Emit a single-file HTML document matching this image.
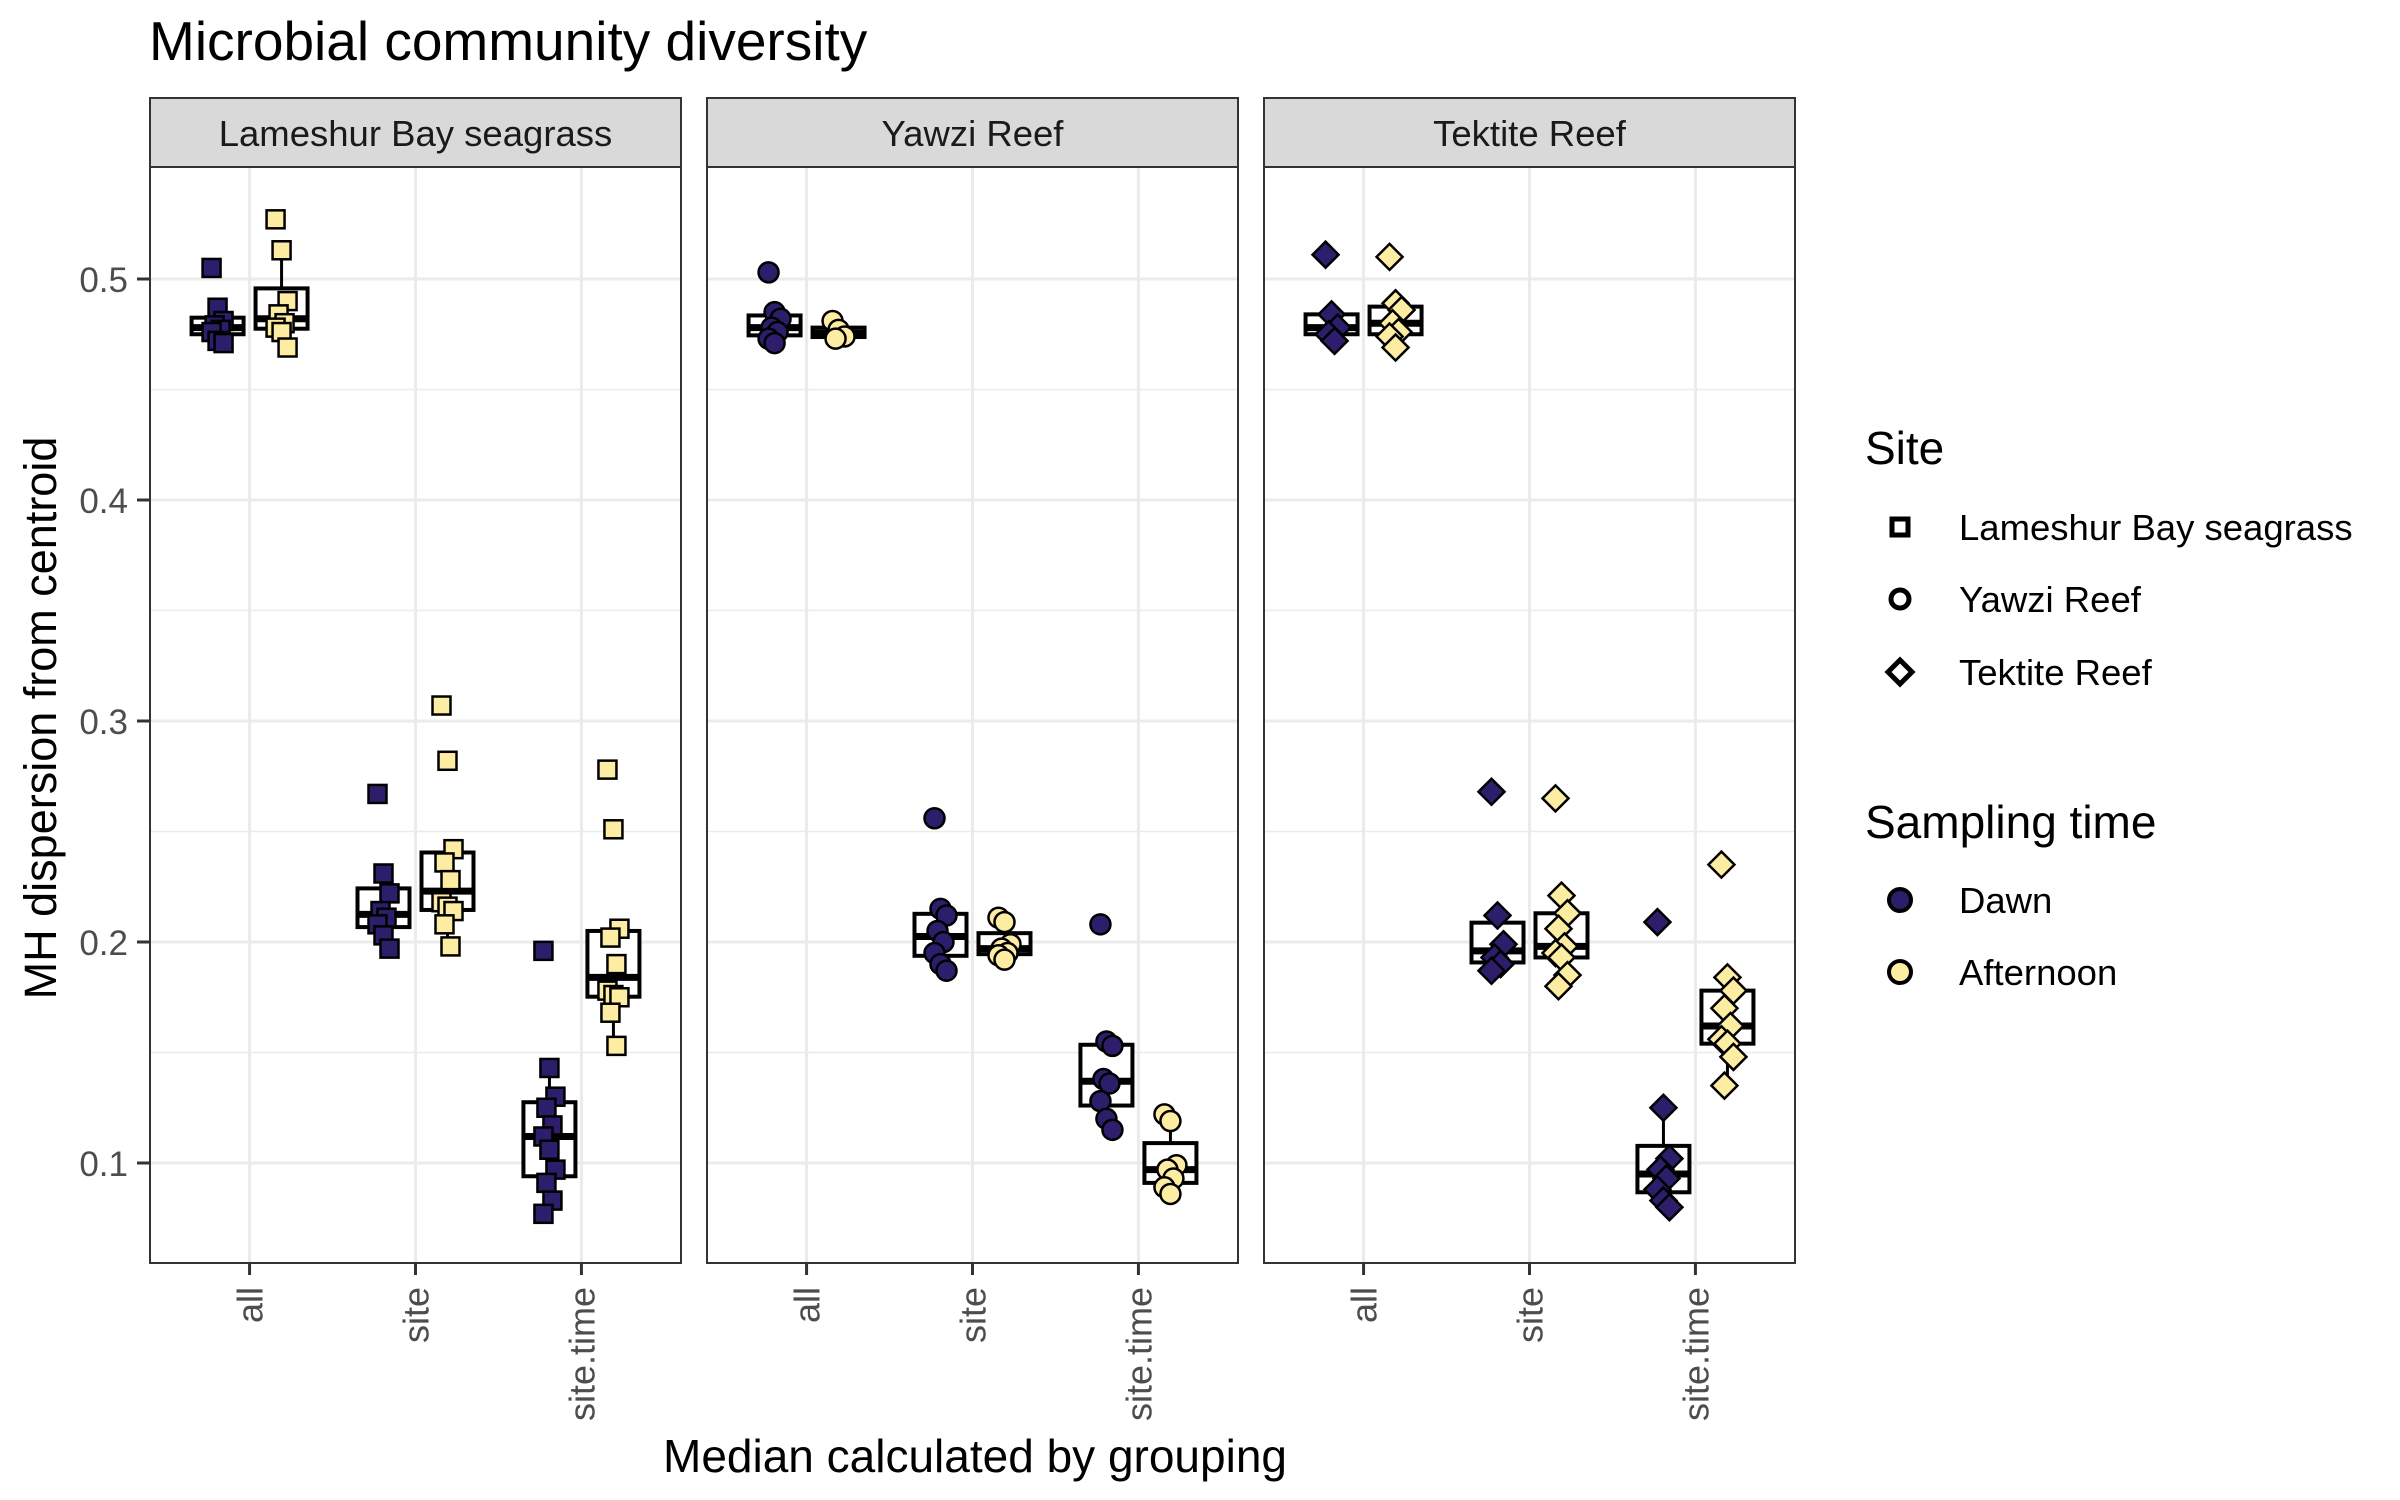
<!DOCTYPE html>
<html><head><meta charset="utf-8">
<style>
html,body{margin:0;padding:0;background:#fff;}
svg{display:block;font-family:"Liberation Sans",Arial,sans-serif;}
</style></head>
<body>
<svg id="chart" width="2400" height="1500" viewBox="0 0 2400 1500" xmlns="http://www.w3.org/2000/svg">
<rect width="2400" height="1500" fill="#fff"/>
<text x="149" y="60" font-size="55" fill="#000">Microbial community diversity</text>
<text transform="translate(56,718) rotate(-90)" text-anchor="middle" font-size="45" fill="#000">MH dispersion from centroid</text>
<text x="975" y="1472" text-anchor="middle" font-size="46" fill="#000">Median calculated by grouping</text>
<g id="panels"></g>
<g>
<text x="1865" y="464" font-size="46">Site</text>
<rect x="1892" y="519" width="16" height="16" fill="none" stroke="#000" stroke-width="5"/>
<text x="1959" y="540" font-size="36.5">Lameshur Bay seagrass</text>
<circle cx="1900" cy="599" r="9" fill="none" stroke="#000" stroke-width="5"/>
<text x="1959" y="612" font-size="36.5">Yawzi Reef</text>
<polygon points="1900,660 1912,672 1900,684 1888,672" fill="none" stroke="#000" stroke-width="5"/>
<text x="1959" y="685" font-size="36.5">Tektite Reef</text>
<text x="1865" y="838" font-size="46">Sampling time</text>
<circle cx="1900" cy="900" r="11" fill="#2D1E6B" stroke="#000" stroke-width="4"/>
<text x="1959" y="913" font-size="36.5">Dawn</text>
<circle cx="1900" cy="972" r="11" fill="#FDEDA2" stroke="#000" stroke-width="4"/>
<text x="1959" y="985" font-size="36.5">Afternoon</text>
</g>
</svg>
<script>
const panelNames = ["Lameshur Bay seagrass","Yawzi Reef","Tektite Reef"];
const categories = ["all","site","site.time"];
const yTicks = [0.1,0.2,0.3,0.4,0.5];
const yTickLabels = ["0.1","0.2","0.3","0.4","0.5"];
// dawn / afternoon values per panel per category
const lameshurDawn = [[0.505,0.487,0.481,0.479,0.477,0.476,0.472,0.471],[0.267,0.231,0.222,0.214,0.211,0.208,0.203,0.197],[0.196,0.143,0.130,0.125,0.117,0.112,0.106,0.097,0.091,0.083,0.077]];
const lameshurAfternoon = [[0.527,0.513,0.490,0.484,0.480,0.478,0.476,0.469],[0.307,0.282,0.242,0.236,0.228,0.218,0.216,0.214,0.208,0.198],[0.278,0.251,0.206,0.202,0.190,0.178,0.176,0.175,0.168,0.153]];
const yawziDawn = [[0.503,0.485,0.482,0.478,0.476,0.473,0.471],[0.256,0.215,0.212,0.205,0.200,0.195,0.190,0.187],[0.208,0.155,0.153,0.138,0.136,0.128,0.120,0.115]];
const yawziAfternoon = [[0.481,0.477,0.474,0.473],[0.211,0.209,0.199,0.197,0.195,0.194,0.192],[0.122,0.119,0.099,0.097,0.093,0.089,0.086]];
const tektiteDawn = [[0.511,0.484,0.478,0.475,0.472],[0.268,0.212,0.199,0.193,0.190,0.187],[0.209,0.125,0.102,0.097,0.093,0.088,0.083,0.080]];
const tektiteAfternoon = [[0.510,0.489,0.486,0.480,0.476,0.474,0.469],[0.265,0.221,0.213,0.206,0.198,0.195,0.193,0.185,0.180],[0.235,0.184,0.178,0.170,0.162,0.156,0.154,0.148,0.135]];

const seriesDawn = [lameshurDawn, yawziDawn, tektiteDawn];
const seriesAft = [lameshurAfternoon, yawziAfternoon, tektiteAfternoon];
const shapes = ["square","circle","diamond"];
const DAWN = "#2D1E6B", AFT = "#FDEDA2";
const NS = "http://www.w3.org/2000/svg";
const panelLefts = [150, 707, 1264];
const PW = 531, TOP = 167, BOT = 1263;
function y(v){ return 279 + (0.5 - v) * 2210; }
function x(left, i){ return left + (i + 0.6) * (PW / 3.2); }
function mk(tag, attrs, parent){ const e = document.createElementNS(NS, tag); for (const k in attrs) e.setAttribute(k, attrs[k]); parent.appendChild(e); return e; }
function q(sorted, p){ const h = (sorted.length - 1) * p; const lo = Math.floor(h), hi = Math.ceil(h); return sorted[lo] + (sorted[hi] - sorted[lo]) * (h - lo); }

const root = document.getElementById('panels');
panelNames.forEach((name, pi) => {
  const L = panelLefts[pi];
  const g = mk('g', {}, root);
  
  
  mk('rect', {x:L, y:TOP, width:PW, height:BOT-TOP, fill:'#fff'}, g);
  [0.15,0.25,0.35,0.45].forEach(v => mk('line', {x1:L, x2:L+PW, y1:y(v), y2:y(v), stroke:'#ebebeb', 'stroke-width':1.5}, g));
  yTicks.forEach(v => mk('line', {x1:L, x2:L+PW, y1:y(v), y2:y(v), stroke:'#ebebeb', 'stroke-width':3}, g));
  categories.forEach((c, ci) => mk('line', {x1:x(L,ci), x2:x(L,ci), y1:TOP, y2:BOT, stroke:'#ebebeb', 'stroke-width':3}, g));
  const s = mk('rect', {x:L, y:98, width:PW, height:69, fill:'#d9d9d9', stroke:'#333', 'stroke-width':2}, g);
  
  
  const st = mk('text', {x:L+PW/2, y:146, 'text-anchor':'middle', 'font-size':36.5, fill:'#1a1a1a'}, g);
  st.textContent = name;
  
  
  [seriesDawn[pi], seriesAft[pi]].forEach((ser, si) => {
    ser.forEach((vals, ci) => {
      const cx = x(L, ci) + (si === 0 ? -32 : 32);
      const sorted = vals.slice().sort((a,b)=>a-b);
      const q1 = q(sorted,0.25), med = q(sorted,0.5), q3 = q(sorted,0.75), iqr = q3-q1;
      const wl = Math.min(...sorted.filter(v => v >= q1 - 1.5*iqr));
      const wh = Math.max(...sorted.filter(v => v <= q3 + 1.5*iqr));
      const bg = mk('g', {}, g);
      
      
      mk('line', {x1:cx, x2:cx, y1:y(wh), y2:y(q3), stroke:'#000', 'stroke-width':3}, bg);
      mk('line', {x1:cx, x2:cx, y1:y(q1), y2:y(wl), stroke:'#000', 'stroke-width':3}, bg);
      mk('rect', {x:cx-26, y:y(q3), width:52, height:Math.max(0.5, y(q1)-y(q3)), fill:'#fff', stroke:'#000', 'stroke-width':4}, bg);
      mk('line', {x1:cx-26, x2:cx+26, y1:y(med), y2:y(med), stroke:'#000', 'stroke-width':7}, bg);
      vals.forEach((v, k) => {
        const jx = cx + (((k * 7) % 5) - 2) * 3;
        const py = y(v);
        const fill = si === 0 ? DAWN : AFT;
        let p;
        if (shapes[pi] === 'square') p = mk('rect', {x:jx-9, y:py-9, width:18, height:18, fill:fill, stroke:'#000', 'stroke-width':2.5}, bg);
        else if (shapes[pi] === 'circle') p = mk('circle', {cx:jx, cy:py, r:10, fill:fill, stroke:'#000', 'stroke-width':2.5}, bg);
        else p = mk('polygon', {points:`${jx},${py-13} ${jx+13},${py} ${jx},${py+13} ${jx-13},${py}`, fill:fill, stroke:'#000', 'stroke-width':2.5}, bg);
        
        
      });
    });
  });
  mk('rect', {x:L, y:TOP, width:PW, height:BOT-TOP, fill:'none', stroke:'#333', 'stroke-width':2}, g);
  categories.forEach((c, ci) => {
    const tx = x(L, ci);
    mk('line', {x1:tx, x2:tx, y1:BOT, y2:BOT+12, stroke:'#333', 'stroke-width':3}, g);
    const t = mk('text', {transform:`translate(${tx+13},${BOT+24}) rotate(-90)`, 'text-anchor':'end', 'font-size':36, fill:'#4d4d4d'}, g);
    t.textContent = c;
    
    
  });
});
const ya = mk('g', {}, root);


yTicks.forEach((v, i) => {
  mk('line', {x1:137, x2:150, y1:y(v), y2:y(v), stroke:'#333', 'stroke-width':3}, ya);
  const t = mk('text', {x:128, y:y(v)+13, 'text-anchor':'end', 'font-size':35, fill:'#4d4d4d'}, ya);
  t.textContent = yTickLabels[i];
  
  
});
</script>
</body></html>
